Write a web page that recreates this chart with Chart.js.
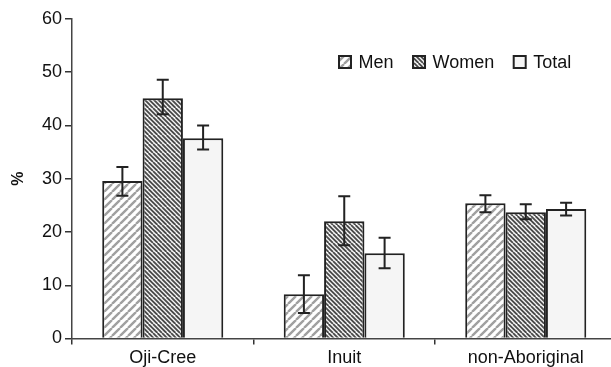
<!DOCTYPE html>
<html>
<head>
<meta charset="utf-8">
<script src="https://cdn.jsdelivr.net/npm/chart.js@4.4.1/dist/chart.umd.min.js"></script>
<style>
    html, body { margin: 0; padding: 0; background: #fff; overflow: hidden; }
    #wrap { width: 620px; height: 367px; }
</style>
</head>
<body>
<div id="wrap"><canvas id="chart" width="620" height="367"></canvas></div>
<script>
// --- data ---
const categories = ['Oji-Cree', 'Inuit', 'non-Aboriginal'];
const seriesNames = ['Men', 'Women', 'Total'];
const menValues = [29.6, 8.3, 25.4];
const menLow = [26.8, 4.8, 23.7];
const menHigh = [32.2, 11.9, 26.9];
const womenValues = [45.1, 22.0, 23.7];
const womenLow = [42.1, 17.5, 22.4];
const womenHigh = [48.6, 26.7, 25.2];
const totalValues = [37.6, 16.0, 24.3];
const totalLow = [35.5, 13.2, 23.1];
const totalHigh = [40.0, 18.9, 25.5];
const yTicks = [0, 10, 20, 30, 40, 50, 60];

const FONT = '"Liberation Sans", Arial, sans-serif';
const INK = '#222';

// --- hatch patterns ---
const makeHatch = (size, step, dir, color, width, bg) => {
    const c = document.createElement('canvas');
    c.width = size; c.height = size;
    const g = c.getContext('2d');
    g.fillStyle = bg;
    g.fillRect(0, 0, size, size);
    g.strokeStyle = color;
    g.lineWidth = width;
    g.beginPath();
    for (let o = -size; o <= size * 2; o += step) {
        if (dir === '/') {
            g.moveTo(o, size); g.lineTo(o + size, 0);
        } else {
            g.moveTo(o, 0); g.lineTo(o + size, size);
        }
    }
    g.stroke();
    return g.createPattern(c, 'repeat');
};

const ctx = document.getElementById('chart');
const menFill = makeHatch(8, 8, '/', '#a0a0a0', 2.4, '#fff');
const womenFill = makeHatch(9, 4.5, '\\', '#4a4a4a', 1.8, '#f4f4f4');
const totalFill = '#f5f5f5';

// --- error bars ---
const errorBars = {
    id: 'errorBars',
    afterDatasetsDraw(chart) {
        const g = chart.ctx;
        const y = chart.scales.y;
        g.save();
        g.strokeStyle = INK;
        g.lineWidth = 2;
        chart.data.datasets.forEach((ds, i) => {
            const meta = chart.getDatasetMeta(i);
            meta.data.forEach((bar, j) => {
                const top = y.getPixelForValue(ds.errHigh[j]);
                const bot = y.getPixelForValue(ds.errLow[j]);
                const x = bar.x;
                g.beginPath();
                g.moveTo(x, top); g.lineTo(x, bot);
                g.moveTo(x - 6, top); g.lineTo(x + 6, top);
                g.moveTo(x - 6, bot); g.lineTo(x + 6, bot);
                g.stroke();
            });
        });
        g.restore();
    }
};

// --- legend inside the plot ---
const insideLegend = {
    id: 'insideLegend',
    afterDraw(chart) {
        const g = chart.ctx;
        g.save();
        g.font = '18px ' + FONT;
        g.textBaseline = 'middle';
        let x = 339;
        const yc = 62;
        chart.data.datasets.forEach(ds => {
            g.fillStyle = ds.backgroundColor;
            g.fillRect(x, yc - 6, 12, 12);
            g.strokeStyle = INK;
            g.lineWidth = 2;
            g.strokeRect(x, yc - 6, 12, 12);
            g.fillStyle = '#111';
            g.fillText(ds.label, x + 19.5, yc + 1);
            x += 19.5 + g.measureText(ds.label).width + 19.5;
        });
        g.restore();
    }
};

const mkSet = (label, data, fill, lo, hi) => ({
    label: label,
    data: data,
    backgroundColor: fill,
    borderColor: INK,
    borderWidth: 2,
    errLow: lo,
    errHigh: hi
});

new Chart(ctx, {
    type: 'bar',
    data: {
        labels: categories,
        datasets: [
            mkSet(seriesNames[0], menValues, menFill, menLow, menHigh),
            mkSet(seriesNames[1], womenValues, womenFill, womenLow, womenHigh),
            mkSet(seriesNames[2], totalValues, totalFill, totalLow, totalHigh)
        ]
    },
    options: {
        responsive: false,
        animation: false,
        devicePixelRatio: 1,
        layout: { padding: { top: 19, right: 3.5, left: 0, bottom: 0 } },
        datasets: {
            bar: { categoryPercentage: 0.667, barPercentage: 1 }
        },
        plugins: {
            legend: { display: false },
            tooltip: { enabled: false }
        },
        scales: {
            x: {
                afterFit: s => { s.height = 28.5; },
                grid: {
                    offset: true,
                    drawOnChartArea: false,
                    tickLength: 6,
                    color: '#333',
                    lineWidth: 1.5
                },
                border: { color: '#444', width: 1.5 },
                ticks: {
                    font: { family: FONT, size: 18 },
                    color: '#111',
                    padding: 3,
                    maxRotation: 0
                }
            },
            y: {
                min: 0,
                max: 60,
                afterFit: s => { s.width = 72; },
                afterBuildTicks: s => { s.ticks = yTicks.map(v => ({ value: v })); },
                grid: {
                    drawOnChartArea: false,
                    tickLength: 7,
                    color: '#333',
                    lineWidth: 1.5
                },
                border: { color: '#444', width: 1.5 },
                ticks: {
                    font: { family: FONT, size: 18 },
                    color: '#111',
                    padding: 3
                },
                title: {
                    display: true,
                    text: '%',
                    font: { family: FONT, size: 16, weight: 'bold' },
                    color: '#111',
                    padding: { top: 9, bottom: 0 }
                }
            }
        }
    },
    plugins: [errorBars, insideLegend]
});
</script>
</body>
</html>
